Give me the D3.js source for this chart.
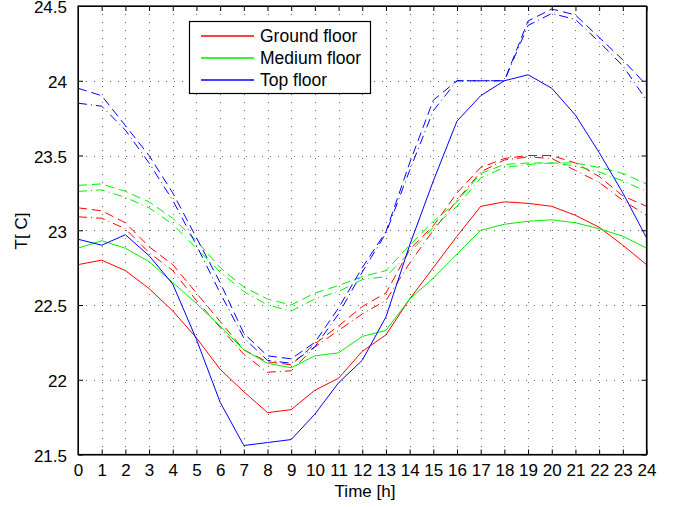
<!DOCTYPE html>
<html>
<head>
<meta charset="utf-8">
<script src="https://cdn.jsdelivr.net/npm/d3@7"></script>
<style>
    body { margin: 0; background: #fff; }
    text { font-family: "Liberation Sans", Arial, Helvetica, sans-serif; fill: #000; }
</style>
</head>
<body>
<svg id="chart"></svg>
<script>
var hours = d3.range(0, 25);
var yTicks = [21.5, 22, 22.5, 23, 23.5, 24, 24.5];

var groundSolid = [22.77, 22.80, 22.73, 22.61, 22.46, 22.28, 22.07, 21.92, 21.78, 21.80, 21.93, 22.01, 22.19, 22.30, 22.54, 22.75, 22.96, 23.16, 23.19, 23.18, 23.16, 23.10, 23.02, 22.90, 22.77];
var groundDashA = [23.15, 23.13, 23.05, 22.89, 22.77, 22.58, 22.39, 22.20, 22.12, 22.10, 22.24, 22.36, 22.49, 22.58, 22.87, 23.03, 23.25, 23.42, 23.48, 23.50, 23.50, 23.45, 23.36, 23.23, 23.16];
var groundDashB = [23.09, 23.08, 23.01, 22.85, 22.73, 22.53, 22.35, 22.17, 22.05, 22.06, 22.22, 22.33, 22.44, 22.53, 22.78, 23.00, 23.20, 23.39, 23.47, 23.49, 23.48, 23.40, 23.32, 23.20, 23.10];

var mediumSolid = [22.88, 22.93, 22.88, 22.79, 22.65, 22.51, 22.36, 22.20, 22.11, 22.08, 22.16, 22.18, 22.29, 22.33, 22.54, 22.68, 22.84, 23.00, 23.04, 23.06, 23.07, 23.05, 23.01, 22.96, 22.88];
var mediumDashA = [23.30, 23.31, 23.26, 23.19, 23.08, 22.93, 22.75, 22.62, 22.54, 22.50, 22.58, 22.63, 22.69, 22.73, 22.90, 23.06, 23.19, 23.38, 23.44, 23.45, 23.45, 23.45, 23.42, 23.38, 23.31];
var mediumDashB = [23.26, 23.27, 23.22, 23.15, 23.04, 22.88, 22.72, 22.59, 22.50, 22.46, 22.54, 22.59, 22.67, 22.69, 22.85, 23.02, 23.16, 23.35, 23.42, 23.44, 23.45, 23.43, 23.39, 23.33, 23.26];

var topSolid = [22.94, 22.90, 22.97, 22.83, 22.64, 22.27, 21.85, 21.56, 21.58, 21.60, 21.77, 21.98, 22.13, 22.42, 22.90, 23.33, 23.73, 23.90, 24.00, 24.04, 23.95, 23.77, 23.52, 23.25, 22.95];
var topDashA = [23.95, 23.90, 23.70, 23.50, 23.25, 22.95, 22.65, 22.31, 22.16, 22.14, 22.25, 22.48, 22.75, 22.99, 23.45, 23.87, 24.00, 24.00, 24.00, 24.40, 24.48, 24.44, 24.29, 24.14, 23.97];
var topDashB = [23.85, 23.83, 23.67, 23.45, 23.20, 22.90, 22.58, 22.28, 22.13, 22.11, 22.22, 22.44, 22.72, 22.98, 23.40, 23.80, 24.00, 24.00, 24.00, 24.37, 24.45, 24.41, 24.26, 24.10, 23.87];

var legendNames = ['Ground floor', 'Medium floor', 'Top floor'];
var colors = ['#ff0000', '#00ee00', '#0000ff'];

var width = 673;
var height = 507;
var plotLeft = 78, plotRight = 646.5, plotTop = 6, plotBottom = 454.5;

var svg = d3.select('#chart')
    .attr('width', width)
    .attr('height', height);

var x = d3.scaleLinear().domain([0, 24]).range([plotLeft, plotRight]);
var y = d3.scaleLinear().domain([21.5, 24.5]).range([plotBottom, plotTop]);

// dotted grid
var grid = svg.append('g');
grid.selectAll('.vg')
    .data(hours.slice(1, 24))
    .enter().append('line')
    .attr('x1', function (d) { return Math.round(x(d)) + 0.5; })
    .attr('x2', function (d) { return Math.round(x(d)) + 0.5; })
    .attr('y1', plotTop).attr('y2', plotBottom)
    .attr('stroke', '#666').attr('stroke-dasharray', '1,7');
grid.selectAll('.hg')
    .data(yTicks.slice(1, 6))
    .enter().append('line')
    .attr('y1', function (d) { return Math.round(y(d)) + 0.5; })
    .attr('y2', function (d) { return Math.round(y(d)) + 0.5; })
    .attr('x1', plotLeft).attr('x2', plotRight)
    .attr('stroke', '#666').attr('stroke-dasharray', '1,7');

svg.append('clipPath').attr('id', 'clip')
    .append('rect')
    .attr('x', plotLeft).attr('y', plotTop)
    .attr('width', plotRight - plotLeft).attr('height', plotBottom - plotTop);

var line = d3.line()
    .x(function (d, i) { return x(hours[i]); })
    .y(function (d) { return y(d); });

var series = [
    { values: groundDashA, color: 0, dash: '9,5' },
    { values: groundDashB, color: 0, dash: '9,4,1,4' },
    { values: mediumDashA, color: 1, dash: '9,5' },
    { values: mediumDashB, color: 1, dash: '9,4,1,4' },
    { values: topDashA, color: 2, dash: '9,5' },
    { values: topDashB, color: 2, dash: '9,4,1,4' },
    { values: groundSolid, color: 0, dash: null },
    { values: mediumSolid, color: 1, dash: null },
    { values: topSolid, color: 2, dash: null }
];

svg.append('g')
    .attr('clip-path', 'url(#clip)')
    .selectAll('path')
    .data(series)
    .enter().append('path')
    .attr('d', function (d) { return line(d.values); })
    .attr('fill', 'none')
    .attr('stroke', function (d) { return colors[d.color]; })
    .attr('stroke-width', 1)
    .attr('stroke-dasharray', function (d) { return d.dash; });

// axes box with inward ticks on all sides
var xBottom = d3.axisBottom(x).tickValues(hours).tickSizeInner(-5).tickSizeOuter(0).tickPadding(9);
var xTop = d3.axisTop(x).tickValues(hours).tickSizeInner(-5).tickSizeOuter(0).tickFormat('');
var yLeft = d3.axisLeft(y).tickValues(yTicks).tickSizeInner(-5).tickSizeOuter(0).tickPadding(11).tickFormat(d3.format('~g'));
var yRight = d3.axisRight(y).tickValues(yTicks).tickSizeInner(-5).tickSizeOuter(0).tickFormat('');

svg.append('g').attr('transform', 'translate(0,' + plotBottom + ')').call(xBottom);
svg.append('g').attr('transform', 'translate(0,' + plotTop + ')').call(xTop);
var yAxisG = svg.append('g').attr('transform', 'translate(' + plotLeft + ',0)').call(yLeft);
svg.append('g').attr('transform', 'translate(' + plotRight + ',0)').call(yRight);

svg.selectAll('.tick text')
    .style('font-size', '17px')
    .style('font-family', '"Liberation Sans", Arial, sans-serif')
    .attr('fill', '#000');
yAxisG.selectAll('.tick text').attr('dy', '0.4em');
svg.selectAll('.domain, .tick line').attr('stroke', '#000');

svg.append('rect')
    .attr('x', plotLeft).attr('y', plotTop)
    .attr('width', plotRight - plotLeft).attr('height', plotBottom - plotTop)
    .attr('fill', 'none').attr('stroke', '#000').attr('stroke-width', 1.2);

svg.append('text')
    .attr('x', 365).attr('y', 497)
    .attr('text-anchor', 'middle')
    .style('font-size', '17px')
    .text('Time [h]');

svg.append('text')
    .attr('transform', 'translate(27,231) rotate(-90)')
    .attr('text-anchor', 'middle')
    .style('font-size', '17px')
    .text('T[ C]');

// legend
var legend = svg.append('g');
legend.append('rect')
    .attr('x', 189.5).attr('y', 21.5)
    .attr('width', 181).attr('height', 72)
    .attr('fill', '#fff').attr('stroke', '#000').attr('stroke-width', 1.2);

legendNames.forEach(function (name, i) {
    var ly = 36 + i * 22;
    legend.append('line')
        .attr('x1', 201).attr('x2', 254)
        .attr('y1', ly).attr('y2', ly)
        .attr('stroke', colors[i])
        .attr('stroke-width', 1.6);
    legend.append('text')
        .attr('x', 260).attr('y', ly).attr('dy', '0.35em')
        .style('font-size', '17.5px')
        .text(name);
});
</script>
</body>
</html>
